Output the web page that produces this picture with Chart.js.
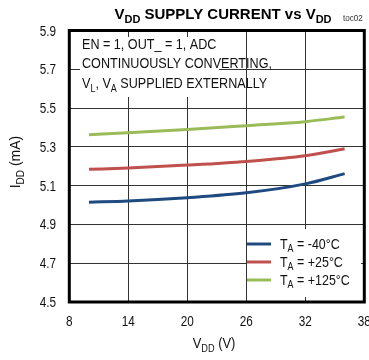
<!DOCTYPE html>
<html>
<head>
<meta charset="utf-8">
<script src="https://cdn.jsdelivr.net/npm/chart.js@4/dist/chart.umd.min.js"></script>
<style>
  html, body { margin: 0; padding: 0; background: #fff; overflow: hidden; }
  #wrap { width: 369px; height: 360px; overflow: hidden; }
</style>
</head>
<body>
<div id="wrap"><canvas id="myChart" width="380" height="360"></canvas></div>
<script>
// supply voltage (V)
var vdd = [10, 14, 20, 26, 32, 36];
// supply current (mA) per temperature
var iddCold = [5.015, 5.021, 5.038, 5.063, 5.109, 5.162];
var iddRoom = [5.184, 5.191, 5.206, 5.225, 5.254, 5.290];
var iddHot = [5.363, 5.373, 5.389, 5.409, 5.430, 5.454];
var tempLabels = ['-40°C', '+25°C', '+125°C'];
var xTicks = [8, 14, 20, 26, 32, 38];
var yTicks = [4.5, 4.7, 4.9, 5.1, 5.3, 5.5, 5.7, 5.9];

var colors = ['#1f4a80', '#c0504d', '#9bbb59'];
var FONT = '"Liberation Sans", Arial, sans-serif';

function pts(ys) {
    return vdd.map(function (x, i) { return { x: x, y: ys[i] }; });
}

// draws a run of text (pieces may be subscripts), squeezed by k horizontally
function richText(ctx, parts, x, y, size, weight, align, k) {
    k = k || 1;
    var subSize = Math.round(size * 0.72);
    var w = 0;
    parts.forEach(function (p) {
        ctx.font = weight + ' ' + (p.sub ? subSize : size) + 'px ' + FONT;
        p.w = ctx.measureText(p.t).width * k;
        w += p.w;
    });
    var cx = x;
    if (align === 'center') cx = x - w / 2;
    if (align === 'right') cx = x - w;
    ctx.textAlign = 'left';
    ctx.textBaseline = 'alphabetic';
    parts.forEach(function (p) {
        ctx.font = weight + ' ' + (p.sub ? subSize : size) + 'px ' + FONT;
        ctx.save();
        ctx.translate(cx, p.sub ? y + size * 0.28 : y);
        ctx.scale(k, 1);
        ctx.fillText(p.t, 0, 0);
        ctx.restore();
        cx += p.w;
    });
    return w;
}

var decor = {
    id: 'decor',
    beforeDatasetsDraw: function (chart) {
        var ctx = chart.ctx;
        ctx.save();
        // note box and legend box sit over the grid
        ctx.fillStyle = '#fff';
        ctx.fillRect(80, 37, 139, 60);
        ctx.fillRect(247, 229, 114, 68);
        ctx.fillStyle = '#111';
        richText(ctx, [{ t: 'EN = 1, OUT_ = 1, ADC' }], 82, 49, 14, 'normal', 'left', 0.9);
        richText(ctx, [{ t: 'CONTINUOUSLY CONVERTING,' }], 82, 68, 14, 'normal', 'left', 0.9);
        richText(ctx, [{ t: 'V' }, { t: 'L', sub: true }, { t: ', V' }, { t: 'A', sub: true },
            { t: ' SUPPLIED EXTERNALLY' }], 82, 88, 14, 'normal', 'left', 0.9);
        ctx.restore();
    },
    afterDatasetsDraw: function (chart) {
        var ctx = chart.ctx;
        var a = chart.chartArea;
        var sx = chart.scales.x, sy = chart.scales.y;
        ctx.save();
        ctx.strokeStyle = '#000';
        ctx.lineWidth = 3;
        ctx.strokeRect(a.left, a.top, a.right - a.left, a.bottom - a.top);

        // tick labels, placed by the scales
        ctx.fillStyle = '#111';
        xTicks.forEach(function (v) {
            richText(ctx, [{ t: String(v) }], sx.getPixelForValue(v), 326, 14, 'normal', 'center', 0.84);
        });
        yTicks.forEach(function (v) {
            richText(ctx, [{ t: v.toFixed(1) }], 56, sy.getPixelForValue(v) + 5, 14, 'normal', 'right', 0.84);
        });

        // legend
        var rows = [244, 262, 280];
        rows.forEach(function (ry, i) {
            ctx.strokeStyle = colors[i];
            ctx.lineWidth = 3;
            ctx.beginPath();
            ctx.moveTo(247, ry);
            ctx.lineTo(271, ry);
            ctx.stroke();
            ctx.fillStyle = '#111';
            richText(ctx, [{ t: 'T' }, { t: 'A', sub: true }, { t: ' = ' + tempLabels[i] }],
                280, ry + 4.5, 14, 'normal', 'left', 0.89);
        });

        // title
        ctx.fillStyle = '#000';
        richText(ctx, [{ t: 'V' }, { t: 'DD', sub: true }, { t: ' SUPPLY CURRENT vs V' }, { t: 'DD', sub: true }],
            223, 19, 15, 'bold', 'center', 1);
        ctx.fillStyle = '#333';
        richText(ctx, [{ t: 'toc02' }], 343, 21, 9, 'normal', 'left', 0.9);

        // axis titles
        ctx.fillStyle = '#111';
        richText(ctx, [{ t: 'V' }, { t: 'DD', sub: true }, { t: ' (V)' }], 214, 348, 14, 'normal', 'center', 0.92);
        ctx.translate(20, 162);
        ctx.rotate(-Math.PI / 2);
        richText(ctx, [{ t: 'I' }, { t: 'DD', sub: true }, { t: ' (mA)' }], 0, 0, 14, 'normal', 'center', 1);
        ctx.restore();
    }
};

var ctx = document.getElementById('myChart').getContext('2d');
var chart = new Chart(ctx, {
    type: 'line',
    data: {
        datasets: [
            { label: 'TA = ' + tempLabels[0], data: pts(iddCold), borderColor: colors[0] },
            { label: 'TA = ' + tempLabels[1], data: pts(iddRoom), borderColor: colors[1] },
            { label: 'TA = ' + tempLabels[2], data: pts(iddHot), borderColor: colors[2] }
        ]
    },
    options: {
        responsive: false,
        animation: false,
        devicePixelRatio: 1,
        layout: { padding: { top: 30.5, right: 15.7, left: 0, bottom: 0 } },
        elements: {
            line: { borderWidth: 3, cubicInterpolationMode: 'monotone', fill: false },
            point: { radius: 0 }
        },
        plugins: { legend: { display: false }, tooltip: { enabled: false } },
        scales: {
            x: {
                type: 'linear',
                min: xTicks[0],
                max: xTicks[xTicks.length - 1],
                afterBuildTicks: function (s) { s.ticks = xTicks.map(function (v) { return { value: v }; }); },
                afterFit: function (s) { s.height = 58; },
                grid: { color: '#333', lineWidth: 1, drawTicks: false },
                border: { display: false },
                ticks: { display: false }
            },
            y: {
                min: yTicks[0],
                max: yTicks[yTicks.length - 1],
                afterBuildTicks: function (s) { s.ticks = yTicks.map(function (v) { return { value: v }; }); },
                afterFit: function (s) { s.width = 69.3; },
                grid: { color: '#333', lineWidth: 1, drawTicks: false },
                border: { display: false },
                ticks: { display: false }
            }
        }
    },
    plugins: [decor]
});
</script>
</body>
</html>
